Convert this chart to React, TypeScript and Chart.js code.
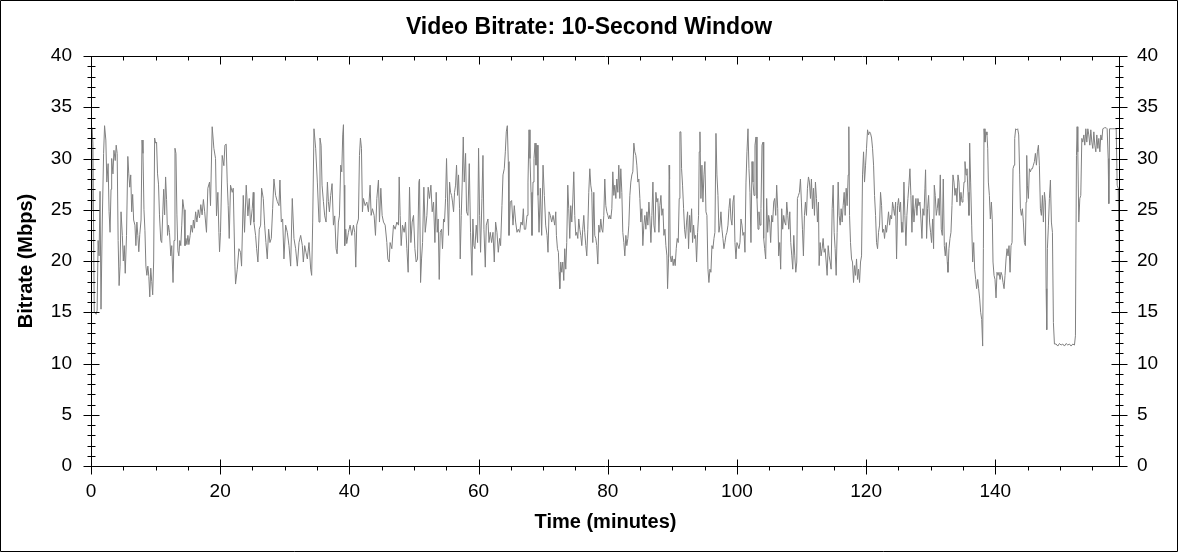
import React, { useEffect, useRef } from "react";
import { Chart, registerables } from "chart.js";

Chart.register(...registerables);

// Readings, strip by strip (minutes / Mbps)
const minutesA = [
  0, 0.15, 0.3, 0.5, 0.8, 0.95, 1.1, 1.25, 1.4, 1.55,
  1.75, 1.95, 2.1, 2.3, 2.45, 2.65, 2.8, 2.95, 3.1, 3.2,
  3.4, 3.55, 3.75, 3.9, 4.05, 4.2, 4.35, 4.5, 4.65, 4.85,
  5.0, 5.15, 5.3, 5.5, 5.7, 5.85, 6.0, 6.15, 6.3, 6.45,
  6.6, 6.8, 6.95, 7.1, 7.25, 7.4, 7.55, 7.75, 7.9, 8.05,
  8.2, 8.35, 8.5, 8.65, 8.8, 8.95, 9.1, 9.25, 9.4, 9.55,
  9.7, 9.85, 10.0, 10.15, 10.3, 10.45, 10.6, 10.8, 10.95, 11.1,
  11.25, 11.4, 11.55, 11.7, 11.85, 12.0, 12.15, 12.35, 12.5, 12.7,
  12.85, 13.0, 13.15, 13.3, 13.45, 13.6, 13.75, 13.9, 14.05, 14.2,
  14.4, 14.55, 14.7, 14.85, 15.0, 15.15, 15.35, 15.5, 15.7, 15.85,
  16.0, 16.2, 16.4, 16.6, 16.8, 17.0, 17.2, 17.4, 17.6,
];
const mbpsA = [
  25, 33, 31.5, 15, 14.8, 15.2, 22, 20.5, 26.8, 15.3,
  24, 30.5, 33.2, 31.8, 27.7, 29.5, 24.8, 22.8, 27, 30,
  28.5, 30.8, 29.8, 31.3, 30.5, 22, 17.6, 19.5, 24.8, 22.5,
  20, 21.5, 18.8, 22.5, 30.2, 28.5, 27.2, 28.4, 24.8, 26.5,
  24, 23.5, 21.5, 23.8, 22.5, 20.9, 22.6, 24, 31.8, 30.5,
  25, 23, 19.5, 18.6, 19.5, 18.5, 16.5, 19.3, 18, 16.7,
  20, 32, 31.5, 31.6, 28.5, 27.5, 24.5, 22, 21.8, 24.5,
  27, 24.5, 28.2, 26, 22.5, 23.5, 22.8, 20.5, 21.5, 17.9,
  22, 31, 30.5, 24.5, 21, 20.5, 22, 21.5, 23.5, 26,
  25, 21.5, 22.2, 21.6, 22.5, 21.6, 22.5, 23.5, 22.8, 24,
  23.2, 24.8, 23.8, 25, 24.2, 25.5, 24.5, 26, 24.8,
];

const minutesB = [
  17.88, 18.09, 18.35, 18.5, 18.76, 19.02, 19.28, 19.43, 19.64, 19.8,
  19.9, 20.05, 20.31, 20.57, 20.73, 20.93, 21.09, 21.24, 21.4, 21.6,
  21.86, 22.02, 22.28, 22.38, 22.64, 22.9, 23.15, 23.31, 23.57, 23.77,
  24.03, 24.29, 24.5, 24.7, 24.96, 25.12, 25.22, 25.48, 25.64, 25.84,
  26.05, 26.26, 26.41, 26.67, 26.88, 27.08, 27.29, 27.5, 27.7, 27.91,
  28.12, 28.32, 28.58, 28.84, 29.1, 29.25, 29.46, 29.67, 29.87, 30.13,
  30.39, 30.65, 30.91, 31.16, 31.42, 31.68, 31.94, 32.2, 32.46, 32.72,
  32.87, 33.08, 33.28, 33.49, 33.75, 34.01, 34.16, 34.32, 34.52, 34.78,
  35.04, 35.3, 35.45,
];
const mbpsB = [
  22.8, 27.1, 27.7, 25.4, 33.1, 31.0, 30.0, 24.4, 26.7, 22.8,
  20.9, 22.8, 30.3, 29.3, 31.3, 31.4, 27.7, 25.4, 22.2, 27.4,
  26.7, 27.1, 19.5, 17.75, 19.2, 21.2, 20.85, 19.5, 26.4, 22.8,
  27.4, 24.4, 26.1, 23.5, 25.1, 26.7, 23.8, 22.5, 21.2, 19.9,
  23.1, 23.5, 27.1, 26.1, 23.5, 21.8, 20.2, 23.1, 21.8, 22.2,
  25.1, 28.0, 26.4, 25.8, 25.4, 27.9, 23.8, 24.1, 20.2, 23.5,
  22.8, 21.5, 19.5, 26.1, 22.2, 21.2, 19.5, 21.8, 22.5, 21.5,
  19.9, 21.5, 20.85, 20.2, 21.8, 19.2, 18.6, 23.8, 32.9, 31.0,
  27.7, 23.8, 32.0,
];

const minutesC = [
  35.62, 35.77, 35.98, 36.18, 36.39, 36.6, 36.75, 36.91, 37.11, 37.32,
  37.53, 37.73, 37.94, 38.1, 38.3, 38.46, 38.66, 38.82, 38.97, 39.08,
  39.18, 39.28, 39.44, 39.59, 39.85, 40.11, 40.37, 40.63, 40.83, 40.99,
  41.14, 41.4, 41.56, 41.71, 41.87, 42.02, 42.18, 42.44, 42.7, 42.95,
  43.21, 43.37, 43.57, 43.83, 44.04, 44.25, 44.5, 44.66, 44.87, 45.07,
  45.28, 45.54, 45.8, 45.95, 46.16, 46.31, 46.57, 46.83, 47.09, 47.35,
  47.6, 47.71, 47.86, 48.02, 48.22, 48.48, 48.69, 48.9, 49.1, 49.31,
  49.52, 49.72, 49.93, 50.14, 50.34, 50.55, 50.76, 50.86, 51.02, 51.17,
  51.33, 51.53, 51.74, 52.0, 52.2, 52.41, 52.62, 52.82, 53.03, 53.24,
  53.44,
];
const mbpsC = [
  31.3, 27.4, 25.8, 24.4, 23.8, 27.7, 25.8, 24.8, 26.4, 27.55,
  23.5, 24.4, 21.2, 20.7, 23.8, 24.4, 29.35, 28.7, 32.3, 33.3,
  27.4, 21.5, 23.1, 21.7, 22.8, 23.5, 22.5, 23.5, 22.8, 19.4,
  23.5, 24.1, 30.3, 32.0, 31.0, 24.8, 26.1, 25.4, 25.75, 24.8,
  27.4, 24.45, 25.1, 24.45, 22.5, 26.1, 27.9, 23.8, 27.1, 24.45,
  23.8, 23.5, 21.8, 20.2, 19.9, 21.8, 21.2, 23.5, 23.1, 23.8,
  23.5, 28.2, 24.45, 21.5, 23.5, 22.8, 23.8, 21.2, 18.9, 27.2,
  21.8, 23.8, 24.45, 21.2, 19.9, 20.2, 27.7, 28.0, 17.9, 20.2,
  21.8, 27.2, 22.8, 24.45, 27.2, 26.1, 27.4, 24.8, 25.75, 21.8,
  26.7,
];

const minutesD = [
  53.6, 53.75, 53.91, 54.06, 54.27, 54.42, 54.58, 54.73, 54.89, 55.04,
  55.2, 55.35, 55.51, 55.66, 55.82, 55.97, 56.13, 56.28, 56.44, 56.59,
  56.75, 56.9, 57.06, 57.16, 57.32, 57.47, 57.63, 57.78, 57.99, 58.14,
  58.35, 58.56, 58.76, 58.97, 59.12, 59.28, 59.43, 59.64, 59.85, 60.0,
  60.16, 60.31, 60.52, 60.68, 60.83, 61.04, 61.19, 61.45, 61.61, 61.81,
  62.02, 62.23, 62.43, 62.64, 62.85, 63.05, 63.26, 63.41, 63.62, 63.78,
  63.98, 64.14, 64.29, 64.45, 64.6, 64.71, 64.91, 65.12, 65.33, 65.53,
  65.74, 65.95, 66.15, 66.36, 66.57, 66.77, 66.93, 67.08, 67.29, 67.5,
  67.65, 67.81, 67.96, 68.12, 68.27, 68.43, 68.58, 68.74, 68.89, 69.05,
  69.2, 69.36, 69.56, 69.77, 69.98, 70.18, 70.39, 70.6, 70.75, 70.91,
  71.11, 71.32, 71.53,
];
const mbpsD = [
  22.8, 24.1, 18.2, 22.8, 23.1, 21.2, 24.1, 23.8, 26.1, 30.0,
  25.75, 22.5, 27.7, 26.7, 26.4, 25.75, 24.8, 26.7, 27.4, 29.35,
  26.4, 28.4, 25.1, 20.2, 24.45, 27.7, 32.1, 27.7, 30.5, 24.8,
  24.45, 29.5, 22.8, 18.6, 24.1, 21.5, 21.2, 23.5, 21.8, 31.0,
  24.45, 20.85, 26.1, 30.3, 23.1, 19.4, 23.5, 24.1, 21.8, 22.8,
  21.8, 22.8, 19.9, 23.8, 22.8, 20.85, 22.2, 21.5, 25.4, 28.4,
  29.0, 30.65, 32.6, 33.2, 29.7, 22.5, 25.75, 25.9, 23.5, 25.4,
  23.8, 22.8, 23.1, 22.8, 23.8, 23.5, 25.1, 23.1, 23.1, 24.45,
  27.7, 32.8, 30.0, 26.7, 22.5, 27.7, 30.0, 31.5, 29.35, 31.3,
  26.4, 22.8, 27.1, 22.5, 29.35, 26.4, 23.5, 22.5, 20.85, 24.8,
  24.45, 23.8, 24.45,
];

const minutesE = [
  71.64, 71.79, 71.95, 72.05, 72.21, 72.36, 72.46, 72.57, 72.72, 72.88,
  73.03, 73.19, 73.34, 73.5, 73.65, 73.81, 73.96, 74.12, 74.27, 74.43,
  74.58, 74.74, 74.89, 75.05, 75.2, 75.36, 75.51, 75.67, 75.82, 75.98,
  76.13, 76.29, 76.44, 76.6, 76.75, 76.91, 77.06, 77.22, 77.37, 77.53,
  77.68, 77.84, 77.99, 78.15, 78.3, 78.46, 78.61, 78.77, 78.92, 79.08,
  79.23, 79.39, 79.54, 79.7, 79.85, 80.01, 80.16, 80.32, 80.47, 80.63,
  80.78, 80.94, 81.09, 81.25, 81.4, 81.56, 81.71, 81.87, 82.02, 82.18,
  82.33, 82.49, 82.64, 82.8, 82.95, 83.11, 83.26, 83.42, 83.57, 83.73,
  83.88, 84.04, 84.19, 84.35, 84.5, 84.66, 84.81, 84.97, 85.12, 85.28,
  85.43, 85.59, 85.74, 85.9, 86.06, 86.21, 86.37, 86.52, 86.68, 86.83,
  86.99, 87.14, 87.3, 87.45, 87.61, 87.76, 87.92, 88.07, 88.23, 88.38,
  88.54, 88.69, 88.85, 89.0, 89.16, 89.26, 89.41, 89.5,
];
const mbpsE = [
  24.45, 23.5, 24.8, 22.5, 21.2, 20.85, 18.9, 17.3, 19.9, 18.9,
  19.9, 18.1, 21.2, 19.2, 21.8, 27.4, 25.1, 22.2, 25.4, 23.8,
  25.75, 28.7, 24.45, 22.5, 22.8, 22.2, 24.1, 23.1, 22.5, 21.5,
  23.1, 24.45, 22.8, 21.5, 20.5, 23.1, 26.7, 29.0, 27.4, 26.7,
  21.8, 26.7, 22.5, 22.2, 21.5, 19.7, 23.5, 22.8, 24.1, 23.1,
  22.8, 24.45, 28.0, 25.4, 24.8, 24.45, 24.1, 24.45, 24.1, 25.1,
  28.7, 26.4, 27.4, 26.1, 28.0, 26.7, 29.35, 26.1, 29.0, 26.7,
  22.8, 21.8, 20.5, 22.5, 21.5, 22.2, 23.5, 26.4, 27.7, 28.4,
  28.7, 31.5, 30.65, 30.3, 29.35, 27.7, 28.0, 26.1, 23.8, 25.1,
  21.5, 23.5, 24.45, 23.1, 24.8, 23.5, 25.75, 24.1, 21.8, 24.45,
  27.7, 23.5, 22.8, 26.7, 25.75, 26.1, 22.8, 25.4, 26.4, 24.45,
  25.1, 22.5, 23.1, 21.5, 20.5, 17.3, 20.2, 29.35,
];

const minutesF = [
  89.57, 89.67, 89.82, 89.98, 90.13, 90.29, 90.44, 90.6, 90.75, 90.91,
  91.06, 91.17, 91.32, 91.43, 91.58, 91.74, 91.89, 92.05, 92.2, 92.36,
  92.51, 92.67, 92.82, 92.98, 93.13, 93.29, 93.44, 93.6, 93.75, 93.91,
  94.06, 94.16, 94.27, 94.42, 94.58, 94.73, 94.89, 95.04, 95.2, 95.35,
  95.51, 95.66, 95.82, 95.97, 96.13, 96.28, 96.44, 96.59, 96.75, 96.9,
  97.06, 97.21, 97.37, 97.52, 97.68, 97.83, 97.99, 98.14, 98.3, 98.45,
  98.61, 98.76, 98.92, 99.07, 99.23, 99.38, 99.54, 99.69, 99.85, 100.0,
  100.16, 100.31, 100.47, 100.62, 100.78, 100.93, 101.09, 101.24, 101.4, 101.55,
  101.71, 101.86, 102.02, 102.17, 102.33, 102.48, 102.64, 102.79, 102.95, 103.1,
  103.26, 103.41, 103.57, 103.72, 103.88, 104.04, 104.14, 104.29, 104.45, 104.6,
  104.76, 104.91, 105.07, 105.22, 105.38, 105.53, 105.69, 105.84, 106.0, 106.15,
  106.31, 106.46, 106.62, 106.77, 106.93, 107.08, 107.24, 107.39,
];
const mbpsF = [
  28.0, 20.5, 19.9, 20.5, 19.55, 20.2, 19.55, 21.2, 22.2, 21.8,
  26.1, 32.6, 32.6, 29.0, 27.4, 25.1, 23.1, 22.2, 23.8, 24.8,
  21.2, 24.45, 22.8, 25.1, 21.8, 23.5, 22.2, 22.5, 19.9, 22.8,
  24.45, 30.65, 32.6, 26.1, 29.35, 25.75, 28.4, 29.7, 24.8, 24.45,
  19.2, 17.9, 19.2, 18.9, 21.5, 21.2, 22.2, 22.8, 32.45, 28.4,
  26.4, 22.8, 23.5, 24.8, 23.1, 22.2, 21.2, 21.8, 22.5, 22.8,
  23.5, 25.1, 26.1, 24.1, 23.5, 25.75, 26.4, 21.8, 20.2, 21.8,
  21.5, 21.2, 21.8, 24.1, 23.5, 22.5, 22.8, 20.85, 27.7, 30.65,
  32.9, 29.0, 26.7, 21.8, 29.7, 27.7, 26.4, 31.3, 32.1, 26.1,
  23.1, 24.8, 23.5, 25.1, 31.3, 31.6, 22.2, 21.2, 20.2, 26.1,
  22.8, 24.45, 23.8, 21.8, 24.45, 23.8, 25.75, 26.1, 24.45, 27.4,
  25.1, 20.5, 21.8, 19.2, 25.1, 23.1, 24.45, 23.8,
];

const minutesG = [
  107.56, 107.71, 107.87, 108.02, 108.18, 108.33, 108.49, 108.64, 108.8, 108.95,
  109.11, 109.26, 109.36, 109.52, 109.67, 109.83, 109.98, 110.14, 110.29, 110.45,
  110.6, 110.76, 110.91, 111.07, 111.22, 111.38, 111.53, 111.69, 111.84, 112.0,
  112.15, 112.31, 112.46, 112.62, 112.72, 112.88, 113.03, 113.19, 113.34, 113.5,
  113.65, 113.81, 113.96, 114.12, 114.27, 114.43, 114.58, 114.74, 114.89, 115.05,
  115.2, 115.36, 115.51, 115.67, 115.82, 115.98, 116.13, 116.29, 116.44, 116.6,
  116.75, 116.91, 117.06, 117.22, 117.32, 117.43, 117.58, 117.74, 117.89, 118.05,
  118.2, 118.36, 118.51, 118.67, 118.82, 118.98, 119.13, 119.29, 119.44, 119.6,
  119.75, 119.91, 120.06, 120.22, 120.37, 120.53, 120.68, 120.84, 120.99, 121.15,
  121.3, 121.46, 121.61, 121.77, 121.92, 122.08, 122.23, 122.39, 122.54, 122.7,
  122.85, 123.01, 123.16, 123.32, 123.47, 123.63, 123.78, 123.94, 124.09, 124.25,
  124.4, 124.56, 124.71, 124.87, 125.02, 125.18, 125.33, 125.49,
];
const mbpsG = [
  23.5, 25.75, 24.45, 23.1, 24.8, 21.8, 20.5, 19.2, 22.5, 20.5,
  18.9, 19.9, 26.1, 26.4, 26.7, 28.0, 25.75, 23.1, 20.5, 24.45,
  25.75, 24.45, 27.1, 28.2, 27.7, 26.1, 28.0, 25.1, 27.1, 24.45,
  27.7, 26.1, 23.8, 25.75, 19.55, 21.8, 20.5, 21.2, 22.2, 20.85,
  21.2, 19.9, 18.6, 21.5, 20.5, 19.9, 19.2, 25.1, 27.4, 22.8,
  21.2, 18.6, 22.8, 27.7, 24.45, 23.5, 25.1, 23.8, 25.4, 26.7,
  24.45, 27.1, 25.4, 28.4, 33.1, 24.45, 21.8, 20.2, 19.9, 17.9,
  19.55, 18.6, 20.2, 18.2, 19.2, 17.9, 19.9, 20.5, 28.4, 30.65,
  27.7, 29.35, 31.0, 32.8, 32.3, 32.6, 32.45, 32.0, 31.0, 29.35,
  26.4, 24.45, 21.8, 21.2, 22.8, 23.5, 26.7, 25.4, 22.8, 23.1,
  22.2, 23.5, 22.8, 23.8, 24.8, 23.5, 24.45, 24.1, 25.75, 25.1,
  24.45, 25.75, 20.2, 25.4, 26.1, 24.8, 25.75, 22.8,
];

const minutesH = [
  125.53, 125.69, 125.85, 126.0, 126.16, 126.31, 126.47, 126.62, 126.78, 126.93,
  127.09, 127.24, 127.4, 127.55, 127.71, 127.86, 128.02, 128.17, 128.33, 128.48,
  128.64, 128.79, 128.95, 129.1, 129.2, 129.36, 129.51, 129.67, 129.82, 129.98,
  130.13, 130.29, 130.44, 130.55, 130.7, 130.86, 131.01, 131.17, 131.32, 131.48,
  131.63, 131.79, 131.94, 132.1, 132.25, 132.41, 132.56, 132.67, 132.82, 132.98,
  133.13, 133.29, 133.44, 133.6, 133.75, 133.91, 134.06, 134.22, 134.37, 134.53,
  134.68, 134.84, 134.99, 135.15, 135.3, 135.46, 135.61, 135.77, 135.92, 136.03,
  136.18, 136.34, 136.49, 136.65, 136.8, 136.96, 137.11, 137.27, 137.42, 137.58,
  137.73, 137.89, 138.04, 138.15, 138.25, 138.4, 138.56, 138.71, 138.82, 138.92,
  139.08, 139.23, 139.39, 139.54, 139.64, 139.8, 139.95, 140.11, 140.26, 140.42,
  140.57, 140.73, 140.88, 141.04, 141.19, 141.35, 141.5, 141.66, 141.81, 141.97,
  142.12, 142.28, 142.43,
];
const mbpsH = [
  23.8, 22.8, 27.7, 24.45, 21.5, 24.45, 26.1, 27.4, 29.0, 26.4,
  22.8, 26.4, 23.8, 25.1, 26.1, 24.45, 26.1, 25.4, 25.75, 24.1,
  22.2, 25.1, 24.45, 27.1, 28.9, 22.2, 25.1, 26.4, 23.8, 22.8,
  21.8, 24.1, 21.2, 27.4, 26.4, 24.45, 25.1, 26.1, 24.45, 28.4,
  23.1, 22.5, 28.0, 21.5, 20.5, 21.8, 19.9, 18.9, 21.2, 22.2,
  22.8, 25.4, 28.4, 27.7, 26.4, 27.1, 25.75, 28.4, 27.7, 25.4,
  26.7, 25.75, 26.1, 27.7, 29.7, 28.4, 29.0, 26.7, 24.45, 31.5,
  27.7, 23.5, 19.9, 21.8, 19.2, 18.2, 17.3, 18.2, 17.3, 16.3,
  15.0, 14.3, 11.7, 21.2, 32.9, 31.6, 32.6, 32.3, 31.0, 27.7,
  26.4, 24.1, 25.75, 23.8, 19.9, 18.6, 18.2, 16.4, 18.9, 18.6,
  18.9, 18.2, 18.9, 18.6, 17.9, 17.3, 18.6, 20.2, 21.2, 20.5,
  21.5, 18.9, 21.5,
];

const minutesI = [
  142.59, 142.74, 142.9, 143.0, 143.15, 143.31, 143.46, 143.62, 143.77, 143.88,
  144.03, 144.19, 144.34, 144.5, 144.65, 144.76, 144.86, 144.96, 145.12, 145.27,
  145.43, 145.58, 145.74, 145.89, 146.05, 146.2, 146.36, 146.51, 146.67, 146.82,
  146.98, 147.13, 147.29, 147.44, 147.6, 147.75, 147.86, 147.96, 148.06, 148.22,
  148.37, 148.53, 148.68, 148.84, 148.99, 149.15, 149.41, 149.67, 149.92, 150.18,
  150.44, 150.7, 150.96, 151.22, 151.47, 151.73, 151.99, 152.25, 152.4, 152.56,
  152.66, 152.77, 152.92, 153.08, 153.23, 153.39, 153.54, 153.7, 153.85, 154.01,
  154.16, 154.32, 154.47, 154.63, 154.78, 154.94, 155.09, 155.25, 155.4, 155.56,
  155.71, 155.87, 156.02, 156.18, 156.33, 156.49, 156.64, 156.9, 157.16, 157.31,
  157.47, 157.57, 157.68, 157.93, 158.19, 158.45, 158.71, 158.86, 159.02, 159.12,
  159.2,
];
const mbpsI = [
  21.8, 29.0, 29.35, 31.96, 32.9, 32.8, 32.9, 32.3, 28.4, 25.1,
  24.45, 25.1, 23.8, 21.8, 21.5, 25.75, 30.3, 27.4, 26.1, 29.0,
  28.7, 29.0, 29.0, 29.35, 29.7, 30.5, 29.35, 30.65, 31.3, 29.35,
  25.1, 24.45, 26.4, 23.8, 26.7, 25.75, 17.3, 13.3, 21.2, 23.5,
  26.1, 27.9, 23.8, 22.8, 14.0, 11.9, 11.9, 11.7, 11.95, 11.8,
  11.9, 11.7, 11.95, 11.8, 11.9, 11.7, 11.9, 11.8, 12.7, 30.3,
  33.1, 30.65, 23.8, 26.1, 26.4, 31.96, 31.6, 32.3, 31.3, 32.9,
  31.6, 32.9, 32.3, 31.3, 32.8, 31.6, 30.98, 32.6, 31.3, 30.65,
  32.3, 30.98, 31.96, 30.65, 32.3, 31.8, 32.9, 33.0, 33.0, 32.9,
  30.0, 25.6, 32.9, 32.9, 32.9, 32.9, 32.9, 27.4, 27.1, 22.8,
  15.3,
];

const minutes = [
  ...minutesA, ...minutesB, ...minutesC, ...minutesD, ...minutesE,
  ...minutesF, ...minutesG, ...minutesH, ...minutesI,
];
const mbps = [
  ...mbpsA, ...mbpsB, ...mbpsC, ...mbpsD, ...mbpsE,
  ...mbpsF, ...mbpsG, ...mbpsH, ...mbpsI,
];

const X_MAX = 159.3;
const X_STEP = 20;
const X_MINOR = 5;
const Y_MAX = 40;
const Y_STEP = 5;
const Y_MINOR = 1;

const W = 1178;
const H = 552;

Chart.defaults.font.family = "Arial, 'Liberation Sans', sans-serif";
Chart.defaults.color = "#000";

// outer frame, plot box and the tick marks (majors cross the axis, minors are short)
const frameAndTicks = {
  id: "frameAndTicks",
  afterDraw(chart: any) {
    const { ctx, chartArea: a, scales } = chart;
    const xs = scales.x;
    const ys = scales.y;
    const L = Math.round(a.left) + 0.5;
    const R = Math.round(a.right) - 0.5;
    const T = Math.round(a.top) + 0.5;
    const B = Math.round(a.bottom) + 0.5;
    ctx.save();
    ctx.strokeStyle = "#000";
    ctx.lineWidth = 1;
    ctx.beginPath();
    ctx.rect(0.5, 0.5, chart.width - 1, chart.height - 1);
    ctx.rect(L, T, R - L, B - T);
    for (let v = 0; v <= Y_MAX; v += Y_MINOR) {
      const py = Math.round(ys.getPixelForValue(v)) + 0.5;
      const len = v % Y_STEP === 0 ? 8 : 4;
      ctx.moveTo(L - len, py);
      ctx.lineTo(L + len, py);
      ctx.moveTo(R - len, py);
      ctx.lineTo(R + len, py);
    }
    for (let m = 0; m <= X_MAX; m += X_MINOR) {
      const px = Math.round(xs.getPixelForValue(m)) + 0.5;
      const major = m % X_STEP === 0;
      ctx.moveTo(px, major ? B - 7 : B);
      ctx.lineTo(px, B + (major ? 8 : 4));
      ctx.moveTo(px, T);
      ctx.lineTo(px, T + (major ? 8 : 4));
    }
    ctx.stroke();
    ctx.restore();
  },
};

const BitrateChart = () => {
  const canvasRef = useRef<HTMLCanvasElement>(null);

  useEffect(() => {
    if (!canvasRef.current) return;
    const points = minutes.map((m, i) => ({ x: m, y: mbps[i] }));

    const yTicks = (padding: number) => ({
      stepSize: Y_STEP,
      padding,
      color: "#000",
      font: { size: 19 },
    });

    const chart = new Chart(canvasRef.current, {
      type: "line",
      data: {
        datasets: [
          {
            label: "Bitrate",
            data: points,
            borderColor: "#808080",
            borderWidth: 1,
            borderJoinStyle: "bevel",
            pointRadius: 0,
            tension: 0,
            fill: false,
          },
        ],
      },
      options: {
        responsive: false,
        animation: false,
        events: [],
        layout: { padding: 0 },
        plugins: {
          legend: { display: false },
          tooltip: { enabled: false },
          title: {
            display: true,
            text: "Video Bitrate: 10-Second Window",
            color: "#000",
            font: { size: 23, weight: "bold" },
            padding: { top: 14, bottom: 14.4 },
          },
        },
        scales: {
          x: {
            type: "linear",
            min: 0,
            max: X_MAX,
            grid: { display: false, drawTicks: false },
            border: { display: false },
            ticks: {
              stepSize: X_STEP,
              includeBounds: false,
              padding: 14,
              maxRotation: 0,
              color: "#000",
              font: { size: 19 },
            },
            title: {
              display: true,
              text: "Time (minutes)",
              color: "#000",
              font: { size: 20, weight: "bold" },
              padding: { top: 0, bottom: 18 },
            },
            afterFit: (s: any) => {
              s.height = 86;
            },
          },
          y: {
            position: "left",
            min: 0,
            max: Y_MAX,
            grid: { display: false, drawTicks: false },
            border: { display: false },
            ticks: yTicks(19),
            title: {
              display: true,
              text: "Bitrate (Mbps)",
              color: "#000",
              font: { size: 20, weight: "bold" },
              padding: { top: 14, bottom: 0 },
            },
            afterFit: (s: any) => {
              s.width = 91;
            },
          },
          y1: {
            position: "right",
            min: 0,
            max: Y_MAX,
            grid: { display: false, drawTicks: false },
            border: { display: false },
            ticks: yTicks(17),
            afterFit: (s: any) => {
              s.width = 58;
            },
          },
        },
      },
      plugins: [frameAndTicks],
    } as any);

    return () => chart.destroy();
  }, []);

  return (
    <div style={{ position: "absolute", left: 0, top: 0, width: W, height: H, background: "#fff" }}>
      <canvas ref={canvasRef} width={W} height={H} style={{ width: W, height: H }} />
    </div>
  );
};

export default function App() {
  return <BitrateChart />;
}
